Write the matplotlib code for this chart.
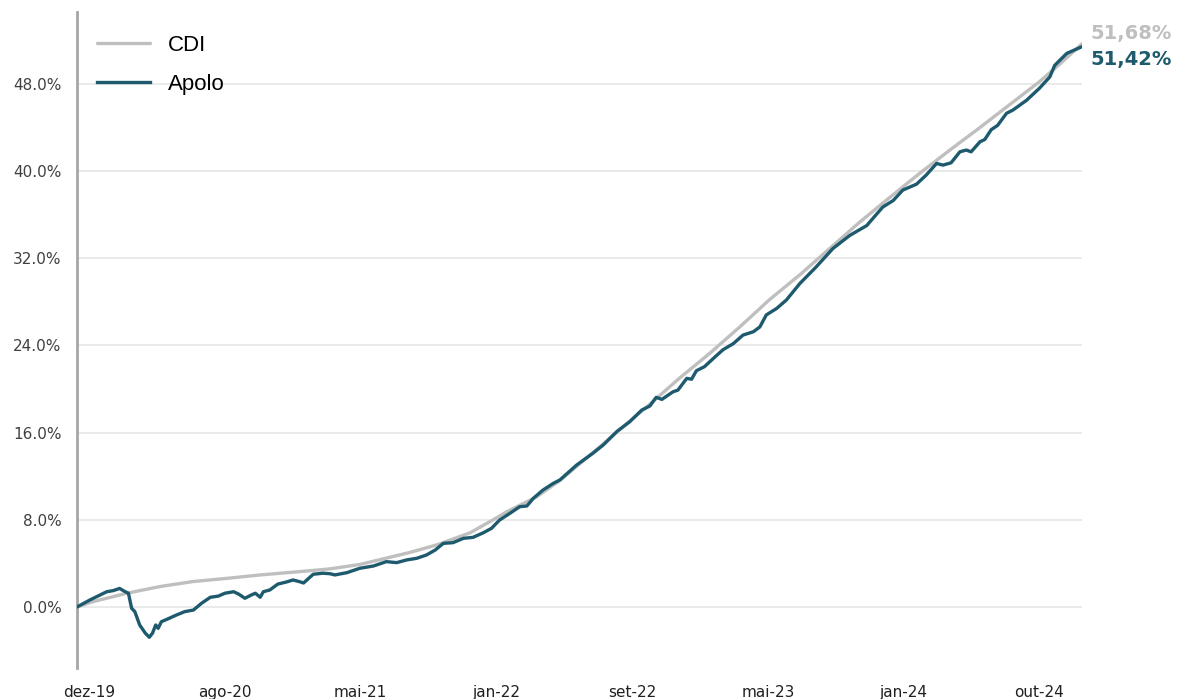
import matplotlib
matplotlib.use("Agg")
import matplotlib.pyplot as plt
from matplotlib.ticker import FuncFormatter

# ---- data (trading-day index since dez-19, cumulative return in %) ----
cdi_day = [0, 20, 62, 103, 144, 187, 228, 286, 315, 352, 386, 414, 448, 489, 518, 535,
           572, 601, 638, 676, 713, 750, 788, 825, 862, 900, 937, 974, 1012, 1049, 1086,
           1124, 1161, 1198, 1223, 1251]
cdi_pct = [0.0, 0.49, 1.26, 1.87, 2.33, 2.63, 2.94, 3.30, 3.50, 3.90, 4.50, 5.00, 5.70, 6.80,
           8.00, 8.74, 10.1, 11.6, 13.9, 16.3, 18.6, 21.0, 23.3, 25.7, 28.2, 30.5, 32.9, 35.3,
           37.6, 39.8, 41.9, 44.0, 46.1, 48.2, 49.8, 51.68]

apolo_day = [0, 16, 37, 45, 53, 60, 64, 68, 72, 78, 85, 90, 94, 98, 101, 105, 112, 124, 134,
             145, 155, 166, 176, 184, 195, 201, 209, 217, 222, 228, 232, 240, 250, 261, 269,
             278, 282, 288, 294, 306, 315, 321, 336, 352, 369, 385, 398, 410, 423, 435, 446,
             456, 468, 481, 493, 506, 516, 526, 539, 551, 560, 568, 580, 593, 601, 622, 642,
             655, 672, 688, 703, 713, 721, 728, 742, 748, 759, 765, 771, 781, 792, 804, 817,
             829, 842, 850, 858, 871, 883, 900, 920, 941, 962, 983, 1003, 1016, 1028, 1045,
             1057, 1070, 1078, 1088, 1099, 1107, 1113, 1124, 1130, 1138, 1146, 1157, 1165,
             1182, 1198, 1211, 1217, 1232, 1251]
apolo_pct = [0.0, 0.64, 1.40, 1.50, 1.70, 1.40, 1.26, -0.12, -0.43, -1.65, -2.40, -2.78, -2.40,
             -1.65, -1.96, -1.35, -1.13, -0.73, -0.43, -0.28, 0.34, 0.89, 1.00, 1.26, 1.40,
             1.19, 0.80, 1.10, 1.26, 0.89, 1.40, 1.56, 2.10, 2.30, 2.48, 2.30, 2.20, 2.60,
             3.00, 3.10, 3.05, 2.94, 3.15, 3.55, 3.76, 4.16, 4.07, 4.31, 4.47, 4.77, 5.23,
             5.84, 5.90, 6.30, 6.39, 6.82, 7.22, 7.98, 8.60, 9.20, 9.27, 9.97, 10.73, 11.35,
             11.65, 13.03, 14.10, 14.86, 16.10, 17.00, 18.07, 18.44, 19.24, 19.05, 19.75,
             19.90, 20.98, 20.90, 21.68, 22.05, 22.80, 23.60, 24.17, 24.95, 25.26, 25.70,
             26.80, 27.40, 28.17, 29.70, 31.20, 32.90, 34.10, 35.00, 36.70, 37.30, 38.26,
             38.80, 39.63, 40.70, 40.55, 40.76, 41.77, 41.93, 41.77, 42.69, 42.90, 43.80,
             44.20, 45.30, 45.60, 46.50, 47.60, 48.65, 49.70, 50.80, 51.42]

tick_labels = ["dez-19", "ago-20", "mai-21", "jan-22", "set-22", "mai-23", "jan-24", "out-24"]
ytick_values = [0, 8, 16, 24, 32, 40, 48]

CDI_COLOR = "#bfbfbf"
APOLO_COLOR = "#1e5a6e"

fig = plt.figure(figsize=(11.78, 6.99), dpi=100)
ax = fig.add_axes([77 / 1178, 1 - 668 / 699, (1082 - 77) / 1178, (668 - 12) / 699])

ax.plot(cdi_day, cdi_pct, color=CDI_COLOR, lw=2.4, label="CDI", zorder=3,
        solid_capstyle="round")
ax.plot(apolo_day, apolo_pct, color=APOLO_COLOR, lw=2.4, label="Apolo", zorder=4,
        solid_joinstyle="round")

ax.set_xlim(0, apolo_day[-1])
ax.set_ylim(-5.6, 54.6)

ax.set_yticks(ytick_values)
ax.yaxis.set_major_formatter(FuncFormatter(lambda v, p: f"{v:.1f}%"))
ax.grid(axis="y", color="#e6e6e6", lw=1.2, zorder=0)
ax.grid(axis="x", visible=False)

tick_pos = [15 + 169 * i for i in range(len(tick_labels))]
ax.set_xticks(tick_pos)
ax.set_xticklabels(tick_labels)

ax.tick_params(axis="y", length=0, pad=11, labelsize=11, labelcolor="#404040")
ax.tick_params(axis="x", length=0, pad=12, labelsize=11, labelcolor="#202020")

for s in ["top", "right", "bottom"]:
    ax.spines[s].set_visible(False)
ax.spines["left"].set_color("#a6a6a6")
ax.spines["left"].set_linewidth(2)

leg = ax.legend(loc="upper left", bbox_to_anchor=(97 / 1178, 1 - 35 / 699),
                bbox_transform=fig.transFigure, frameon=False,
                prop={"family": ["Liberation Sans", "DejaVu Sans"], "size": 16},
                handlelength=2.4, handletextpad=0.8, labelspacing=0.82,
                borderpad=0, borderaxespad=0)

def fmt(v):
    return f"{v:.2f}%".replace(".", ",")

ax.annotate(fmt(cdi_pct[-1]), xy=(cdi_day[-1], cdi_pct[-1]), xytext=(8, 10),
            textcoords="offset pixels", color=CDI_COLOR, fontsize=14, fontweight="bold",
            va="center", ha="left", annotation_clip=False)
ax.annotate(fmt(apolo_pct[-1]), xy=(apolo_day[-1], apolo_pct[-1]), xytext=(8, -13),
            textcoords="offset pixels", color=APOLO_COLOR, fontsize=14, fontweight="bold",
            va="center", ha="left", annotation_clip=False)

fig.savefig("out.png", dpi=100)
